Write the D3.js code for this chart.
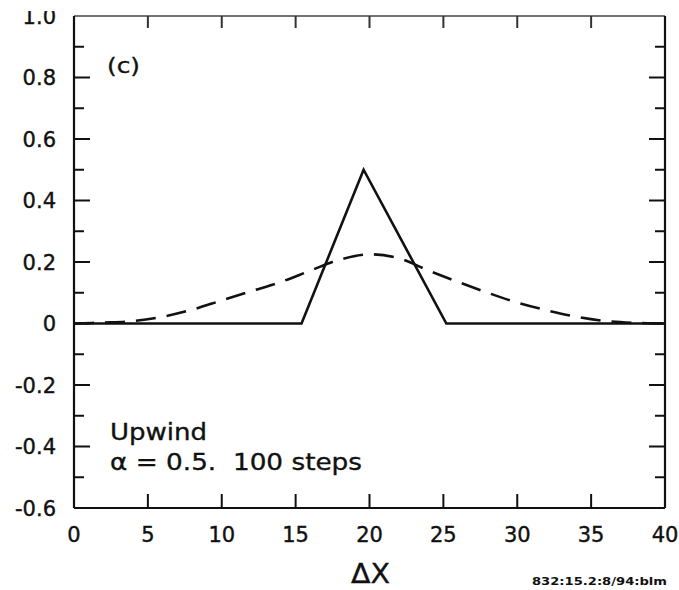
<!DOCTYPE html>
<html lang="en">
<head>
  <meta charset="UTF-8" />
  <title>Upwind, alpha = 0.5, 100 steps</title>
  <script src="https://d3js.org/d3.v7.min.js"></script>
  <style>
    body { margin: 0; background: #fff; }
    svg text { font-family: "DejaVu Sans", "Liberation Sans", sans-serif; fill: #111; white-space: pre; }
  </style>
</head>
<body>
  <svg id="chart" width="679" height="590"></svg>

  <script>
    // ---------- data ----------
    // exact solution (solid): triangle pulse
    const exactX = [0, 15.4, 19.6, 25.2, 40];
    const exactY = [0, 0, 0.5, 0, 0];

    // upwind result after 100 steps (dashed)
    const upwindX = [0, 2, 4, 6, 8, 10, 12, 14, 16, 18, 20, 22, 24, 26, 28, 30, 32, 34, 36, 38, 40];
    const upwindY = [0, 0.003, 0.008, 0.022, 0.045, 0.075, 0.105, 0.135, 0.172, 0.208, 0.225,
                     0.212, 0.172, 0.135, 0.1, 0.068, 0.043, 0.022, 0.008, 0.002, 0];

    const xTicks = [0, 5, 10, 15, 20, 25, 30, 35, 40];
    const yTicks = [-0.6, -0.4, -0.2, 0, 0.2, 0.4, 0.6, 0.8, 1.0];
    const yMinor = [-0.5, -0.3, -0.1, 0.1, 0.3, 0.5, 0.7, 0.9];

    const svg = d3.select("#chart");
    const x = d3.scaleLinear().domain([0, 40]).range([74, 665]);
    const y = d3.scaleLinear().domain([-0.6, 1.0]).range([508, 16]);

    // plain hyphen for negatives, like the original
    const fmtY = d => d === 0 ? "0" : d3.format(".1f")(d).replace("\u2212", "-");

    // frame
    svg.append("line").attr("x1", x(0)).attr("x2", x(40)).attr("y1", y(1)).attr("y2", y(1))
      .attr("stroke", "#444").attr("stroke-width", 1.5);
    svg.append("line").attr("x1", x(0)).attr("x2", x(40)).attr("y1", y(-0.6)).attr("y2", y(-0.6))
      .attr("stroke", "#111").attr("stroke-width", 2.2);
    svg.append("line").attr("x1", x(0)).attr("x2", x(0)).attr("y1", y(1)).attr("y2", y(-0.6))
      .attr("stroke", "#111").attr("stroke-width", 2.2);
    svg.append("line").attr("x1", x(40)).attr("x2", x(40)).attr("y1", y(1)).attr("y2", y(-0.6))
      .attr("stroke", "#111").attr("stroke-width", 2.2);

    // inward ticks
    const inner = xTicks.slice(1, -1);
    svg.selectAll(".xb").data(inner).join("line")
      .attr("x1", x).attr("x2", x).attr("y1", y(-0.6)).attr("y2", y(-0.6) - 14)
      .attr("stroke", "#111").attr("stroke-width", 2);
    svg.selectAll(".xt").data(inner).join("line")
      .attr("x1", x).attr("x2", x).attr("y1", y(1)).attr("y2", y(1) + 12)
      .attr("stroke", "#333").attr("stroke-width", 2);

    const yInner = yTicks.slice(1, -1);
    [[x(0), 1], [x(40), -1]].forEach(([x0, dir]) => {
      svg.selectAll(null).data(yInner).join("line")
        .attr("x1", x0).attr("x2", x0 + dir * 16).attr("y1", y).attr("y2", y)
        .attr("stroke", "#111").attr("stroke-width", 2);
      svg.selectAll(null).data(yMinor).join("line")
        .attr("x1", x0).attr("x2", x0 + dir * 10).attr("y1", y).attr("y2", y)
        .attr("stroke", "#111").attr("stroke-width", 2);
    });

    // tick labels
    svg.selectAll(".xl").data(xTicks).join("text")
      .attr("x", x).attr("y", 542)
      .attr("text-anchor", "middle")
      .attr("font-size", 21).attr("stroke", "#111").attr("stroke-width", 0.4)
      .text(d => d);
    svg.selectAll(".yl").data(yTicks).join("text")
      .attr("x", 56).attr("y", d => y(d) + 7.5)
      .attr("text-anchor", "end")
      .attr("font-size", 21).attr("stroke", "#111").attr("stroke-width", 0.4)
      .text(fmtY);

    // curves
    const line = d3.line().x(d => x(d[0])).y(d => y(d[1]));
    svg.append("path").datum(d3.zip(exactX, exactY))
      .attr("d", line).attr("fill", "none")
      .attr("stroke", "#111").attr("stroke-width", 2.6).attr("stroke-linejoin", "miter");
    svg.append("path").datum(d3.zip(upwindX, upwindY))
      .attr("d", line.curve(d3.curveCatmullRom)).attr("fill", "none")
      .attr("stroke", "#111").attr("stroke-width", 2.6).attr("stroke-dasharray", "20,11");

    // annotations (the scan is a little stretched sideways, so widths are fitted)
    const note = (tx, ty, size, len, str) => svg.append("text")
      .attr("x", tx).attr("y", ty).attr("font-size", size)
      .attr("textLength", len).attr("lengthAdjust", "spacingAndGlyphs")
      .attr("stroke", "#111").attr("stroke-width", 0.35)
      .text(str);

    note(107, 73, 21, 33, "(c)");
    note(110, 440, 23, 97, "Upwind");
    note(110, 470, 23, 252, "\u03b1 = 0.5.  100 steps");
    note(351, 583, 27, 39, "\u0394X");
    note(532, 585, 11, 135, "832:15.2:8/94:blm").attr("font-weight", "bold").attr("stroke-width", 0);

    // top edge of the scan cuts through the "1.0" label
    svg.append("rect").attr("x", 0).attr("y", 0).attr("width", 70).attr("height", 11).attr("fill", "#fff");
  </script>
</body>
</html>
